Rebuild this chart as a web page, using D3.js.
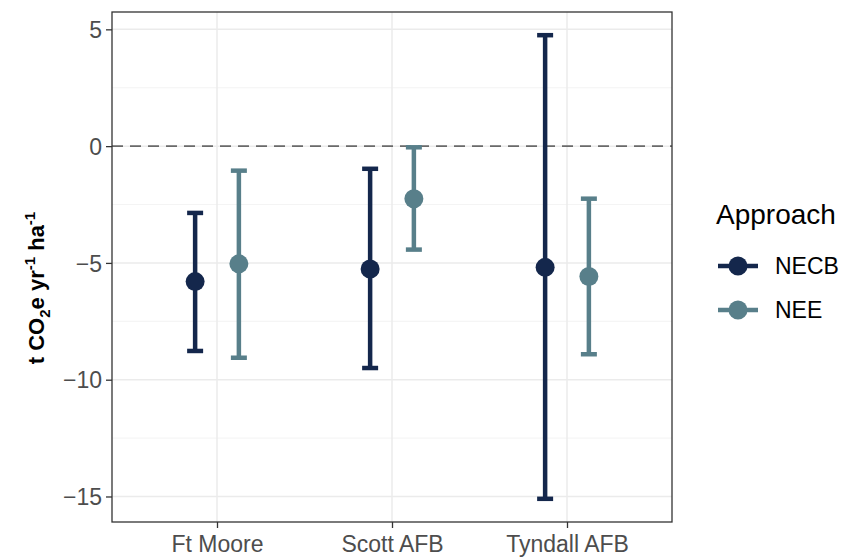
<!DOCTYPE html>
<html>
<head>
<meta charset="utf-8">
<script src="https://cdn.jsdelivr.net/npm/d3@7"></script>
<style>
  body { margin: 0; background: #fff; }
  text { font-family: "Liberation Sans", Arial, sans-serif; }
</style>
</head>
<body>
<div id="chart"></div>
<script>
// sites on the x axis
var sites = ["Ft Moore", "Scott AFB", "Tyndall AFB"];
var approaches = ["NECB", "NEE"];

// NECB estimates with error bar ends
var necbMean = [-5.80, -5.26, -5.19];
var necbLow = [-8.77, -9.50, -15.10];
var necbHigh = [-2.86, -0.97, 4.75];

// NEE estimates with error bar ends
var neeMean = [-5.04, -2.25, -5.58];
var neeLow = [-9.06, -4.43, -8.91];
var neeHigh = [-1.05, -0.05, -2.25];

var yTicks = [-15, -10, -5, 0, 5];
var yMinorTicks = [-12.5, -7.5, -2.5, 2.5];

var colors = { "NECB": "#14274c", "NEE": "#587f8a" };

var w = 841;
var h = 558;
var panel = { left: 112, right: 672, top: 12, bottom: 522 };

// build rows for drawing
var rows = [];
sites.forEach(function(s, i) {
  rows.push({ site: s, approach: "NECB", mean: necbMean[i], low: necbLow[i], high: necbHigh[i] });
  rows.push({ site: s, approach: "NEE", mean: neeMean[i], low: neeLow[i], high: neeHigh[i] });
});

var lo = d3.min(rows, function(d) { return d.low; });
var hi = d3.max(rows, function(d) { return d.high; });
var pad = (hi - lo) * 0.05;

var yScale = d3.scaleLinear()
               .domain([lo - pad, hi + pad])
               .range([panel.bottom, panel.top]);

var xScale = d3.scalePoint()
               .domain(sites)
               .range([panel.left, panel.right])
               .padding(0.6);

// dodge width 0.5 of a category step
var dodge = d3.scalePoint()
              .domain(approaches)
              .range([-xScale.step() * 0.125, xScale.step() * 0.125]);

function xPos(d) {
  return xScale(d.site) + dodge(d.approach);
}

var svg = d3.select("#chart")
            .append("svg")
            .attr("width", w)
            .attr("height", h);

svg.append("rect")
   .attr("width", w)
   .attr("height", h)
   .attr("fill", "#fff");

// grid
var grid = svg.append("g");
grid.selectAll("line.minor")
    .data(yMinorTicks)
    .enter()
    .append("line")
    .attr("class", "minor")
    .attr("x1", panel.left)
    .attr("x2", panel.right)
    .attr("y1", function(d) { return yScale(d); })
    .attr("y2", function(d) { return yScale(d); })
    .attr("stroke", "#f0f0f0")
    .attr("stroke-width", 0.8);

grid.selectAll("line.majory")
    .data(yTicks)
    .enter()
    .append("line")
    .attr("class", "majory")
    .attr("x1", panel.left)
    .attr("x2", panel.right)
    .attr("y1", function(d) { return yScale(d); })
    .attr("y2", function(d) { return yScale(d); })
    .attr("stroke", "#ebebeb")
    .attr("stroke-width", 1.5);

grid.selectAll("line.majorx")
    .data(sites)
    .enter()
    .append("line")
    .attr("class", "majorx")
    .attr("x1", function(d) { return xScale(d); })
    .attr("x2", function(d) { return xScale(d); })
    .attr("y1", panel.top)
    .attr("y2", panel.bottom)
    .attr("stroke", "#ebebeb")
    .attr("stroke-width", 1.5);

// zero reference line
svg.append("line")
   .attr("x1", panel.left)
   .attr("x2", panel.right)
   .attr("y1", yScale(0))
   .attr("y2", yScale(0))
   .attr("stroke", "#6a6a6a")
   .attr("stroke-width", 1.6)
   .attr("stroke-dasharray", "11,7");

// error bars
var capW = 8;
var bars = svg.append("g")
              .selectAll("g")
              .data(rows)
              .enter()
              .append("g")
              .attr("stroke", function(d) { return colors[d.approach]; })
              .attr("stroke-width", 4.5);

bars.append("line")
    .attr("x1", xPos)
    .attr("x2", xPos)
    .attr("y1", function(d) { return yScale(d.low); })
    .attr("y2", function(d) { return yScale(d.high); });

bars.append("line")
    .attr("x1", function(d) { return xPos(d) - capW; })
    .attr("x2", function(d) { return xPos(d) + capW; })
    .attr("y1", function(d) { return yScale(d.low); })
    .attr("y2", function(d) { return yScale(d.low); });

bars.append("line")
    .attr("x1", function(d) { return xPos(d) - capW; })
    .attr("x2", function(d) { return xPos(d) + capW; })
    .attr("y1", function(d) { return yScale(d.high); })
    .attr("y2", function(d) { return yScale(d.high); });

// points
svg.append("g")
   .selectAll("circle")
   .data(rows)
   .enter()
   .append("circle")
   .attr("cx", xPos)
   .attr("cy", function(d) { return yScale(d.mean); })
   .attr("r", 9.5)
   .attr("fill", function(d) { return colors[d.approach]; });

// panel border
svg.append("rect")
   .attr("x", panel.left)
   .attr("y", panel.top)
   .attr("width", panel.right - panel.left)
   .attr("height", panel.bottom - panel.top)
   .attr("fill", "none")
   .attr("stroke", "#333")
   .attr("stroke-width", 1.3);

// axes
var yAxis = d3.axisLeft(yScale)
              .tickValues(yTicks)
              .tickSize(6)
              .tickPadding(4)
              .tickFormat(function(d) { return d < 0 ? "\u2212" + Math.abs(d) : d; });

var yg = svg.append("g")
            .attr("transform", "translate(" + panel.left + ",0)")
            .call(yAxis);

var xAxis = d3.axisBottom(xScale)
              .tickSize(6)
              .tickPadding(8);

var xg = svg.append("g")
            .attr("transform", "translate(0," + panel.bottom + ")")
            .call(xAxis);

[yg, xg].forEach(function(g) {
  g.select(".domain").remove();
  g.selectAll(".tick line").attr("stroke", "#333").attr("stroke-width", 1.3);
  g.selectAll(".tick text")
   .attr("fill", "#4d4d4d")
   .style("font-size", "23px")
   .style("font-family", "'Liberation Sans', Arial, sans-serif");
});
yg.selectAll(".tick text").attr("dy", "0.36em");
xg.selectAll(".tick text").attr("dy", "0.71em");

// y axis title
var ytitle = svg.append("text")
                .attr("transform", "translate(44,288) rotate(-90)")
                .attr("text-anchor", "middle")
                .attr("font-weight", "bold")
                .attr("font-size", 22)
                .attr("fill", "#000");
ytitle.append("tspan").text("t CO");
ytitle.append("tspan").attr("font-size", 15).attr("dy", 6).text("2");
ytitle.append("tspan").attr("dy", -6).text("e yr");
ytitle.append("tspan").attr("font-size", 15).attr("dy", -9).text("-1");
ytitle.append("tspan").attr("dy", 9).text(" ha");
ytitle.append("tspan").attr("font-size", 15).attr("dy", -9).text("-1");

// legend
var legend = svg.append("g");
legend.append("text")
      .attr("x", 716)
      .attr("y", 224)
      .attr("font-size", 28)
      .attr("fill", "#000")
      .text("Approach");

var keys = legend.selectAll("g.key")
                 .data(approaches)
                 .enter()
                 .append("g")
                 .attr("class", "key")
                 .attr("transform", function(d, i) { return "translate(738," + (266 + i * 44) + ")"; });

keys.append("line")
    .attr("x1", -20)
    .attr("x2", 20)
    .attr("stroke", function(d) { return colors[d]; })
    .attr("stroke-width", 4.5);

keys.append("circle")
    .attr("r", 9.5)
    .attr("fill", function(d) { return colors[d]; });

keys.append("text")
    .attr("x", 37)
    .attr("dy", "0.36em")
    .attr("font-size", 23)
    .attr("fill", "#000")
    .text(function(d) { return d; });
</script>
</body>
</html>
